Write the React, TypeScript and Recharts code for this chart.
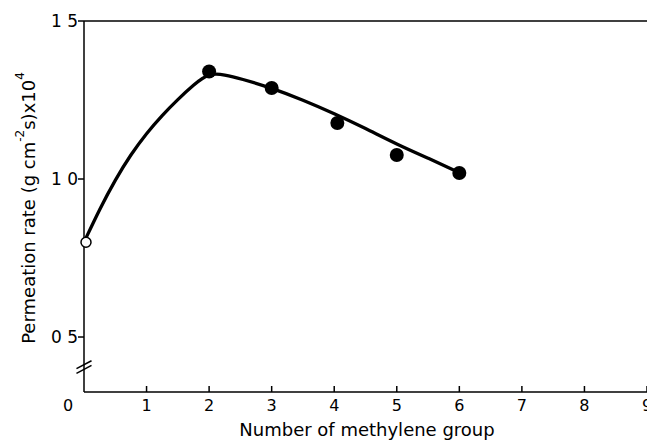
import {
  ComposedChart,
  Line,
  Scatter,
  XAxis,
  YAxis,
  ReferenceLine,
} from 'recharts';

// Fitted curve (x = methylene groups, y = rate x10^4)
const CURVE_X = [0, 0.25, 0.5, 0.75, 1, 1.25, 1.5, 1.75, 2, 2.25, 2.5, 3, 3.5, 4, 4.5, 5, 5.5, 6];
const CURVE_Y = [0.8, 0.905, 0.998, 1.078, 1.145, 1.202, 1.252, 1.298, 1.336, 1.33, 1.318, 1.288, 1.25, 1.207, 1.16, 1.11, 1.066, 1.02];

// Measured points (filled circles)
const POINT_X = [2, 3, 4.05, 5, 6];
const POINT_Y = [1.34, 1.288, 1.177, 1.076, 1.019];

// Open circle at n = 0
const OPEN_X = [0];
const OPEN_Y = [0.8];

const X_TICKS = [0, 1, 2, 3, 4, 5, 6, 7, 8, 9];
const Y_TICKS = [0.5, 1.0, 1.5];
const Y_TICK_LABELS = ['0 5', '1 0', '1 5'];

const FONT = '"DejaVu Sans", sans-serif';

const curve = CURVE_X.map((x, i) => ({ x, y: CURVE_Y[i] }));
const points = POINT_X.map((x, i) => ({ x, y: POINT_Y[i] }));
const open = OPEN_X.map((x, i) => ({ x, y: OPEN_Y[i] }));

function XTick({ x, y, payload }: any) {
  const v = payload.value;
  return (
    <g>
      {v !== 0 && <line x1={x} x2={x} y1={y - 6} y2={y} stroke="#000" strokeWidth={1.5} />}
      <text
        x={v === 0 ? x - 16 : x}
        y={y + 19}
        textAnchor="middle"
        fontFamily={FONT}
        fontSize={16}
        fill="#000">
        {v}
      </text>
    </g>);
}

function YTick({ x, y, payload }: any) {
  const i = Y_TICKS.indexOf(payload.value);
  return (
    <g>
      <line x1={x - 6} x2={x} y1={y} y2={y} stroke="#000" strokeWidth={1.5} />
      <text
        x={x - 6}
        y={y + 6}
        textAnchor="end"
        fontFamily={FONT}
        fontSize={17}
        fill="#000">
        {Y_TICK_LABELS[i]}
      </text>
    </g>);
}

const Dot = (p: any) => <circle cx={p.cx} cy={p.cy} r={7} fill="#000" />;
const OpenDot = (p: any) => <circle cx={p.cx + 2} cy={p.cy} r={5} fill="#fff" stroke="#000" strokeWidth={1.5} />;

export default function App() {
  return (
    <div style={{ position: 'absolute', left: 0, top: 0, width: 647, height: 440, background: '#fff' }}>
      <ComposedChart width={647} height={440} margin={{ top: 21, right: 0, bottom: 0, left: 0 }}>
        <XAxis
          type="number"
          dataKey="x"
          domain={[0, 9]}
          ticks={X_TICKS}
          interval={0}
          height={48}
          tickSize={0}
          tickMargin={0}
          tickLine={false}
          tick={<XTick />}
          axisLine={{ stroke: '#000', strokeWidth: 1.5 }}
        />
        <YAxis
          type="number"
          dataKey="y"
          domain={[0.326, 1.5]}
          ticks={Y_TICKS}
          interval={0}
          width={84}
          tickSize={0}
          tickMargin={0}
          tickLine={false}
          tick={<YTick />}
          axisLine={{ stroke: '#000', strokeWidth: 1.5 }}
        />
        <ReferenceLine y={1.5} stroke="#000" strokeWidth={1.5} />
        {/* axis break marks */}
        <ReferenceLine
          segment={[{ x: -0.12, y: 0.4 }, { x: 0.12, y: 0.425 }]}
          ifOverflow="visible"
          stroke="#000"
          strokeWidth={1.5}
        />
        <ReferenceLine
          segment={[{ x: -0.12, y: 0.385 }, { x: 0.12, y: 0.41 }]}
          ifOverflow="visible"
          stroke="#000"
          strokeWidth={1.5}
        />
        <Line
          data={curve}
          dataKey="y"
          type="basis"
          stroke="#000"
          strokeWidth={3.3}
          dot={false}
          activeDot={false}
          isAnimationActive={false}
        />
        <Scatter data={points} dataKey="y" shape={<Dot />} isAnimationActive={false} />
        <Scatter data={open} dataKey="y" shape={<OpenDot />} isAnimationActive={false} />
        <text
          x={28}
          y={208}
          transform="rotate(-90 28 208)"
          textAnchor="middle"
          dominantBaseline="central"
          fontFamily={FONT}
          fontSize={18}
          fill="#000">
          Permeation rate (g cm<tspan dy={-8} fontSize={12}>-2</tspan>
          <tspan dy={8}>s)x10</tspan>
          <tspan dy={-8} fontSize={12}>4</tspan>
        </text>
        <text
          x={367}
          y={436}
          textAnchor="middle"
          fontFamily={FONT}
          fontSize={18}
          fill="#000">
          Number of methylene group
        </text>
      </ComposedChart>
    </div>);
}
